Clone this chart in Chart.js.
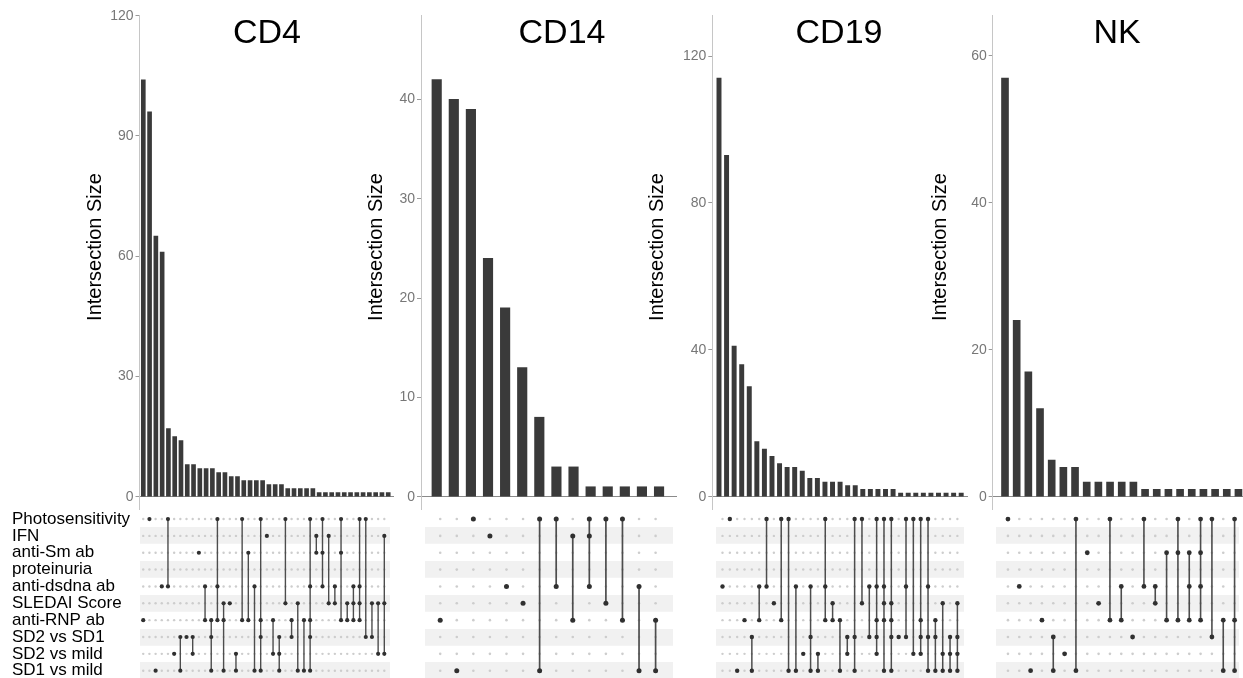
<!DOCTYPE html>
<html><head><meta charset="utf-8">
<script src="https://cdn.jsdelivr.net/npm/chart.js@4/dist/chart.umd.min.js"></script>
<style>
html,body{margin:0;padding:0;background:#fff;overflow:hidden;width:1243px;height:678px;position:relative}
canvas{position:absolute}
</style></head><body>
<script>
// ---------- data ----------
const setNames = ['Photosensitivity','IFN','anti-Sm ab','proteinuria','anti-dsdna ab','SLEDAI Score','anti-RNP ab','SD2 vs SD1','SD2 vs mild','SD1 vs mild'];

const cd4Sizes = [104,96,65,61,17,15,14,8,8,7,7,7,6,6,5,5,4,4,4,4,3,3,3,2,2,2,2,2,1,1,1,1,1,1,1,1,1,1,1,1];
const cd4Members = [[7],[1],[10],[5],[1,5],[9],[8,10],[8],[8,9],[3],[5,7],[7,8,10],[1,5,7],[6,7,10],[6],[9,10],[1,7],[3,7],[5,10],[1,7,8,10],
  [2],[7,9],[8,9,10],[1,6],[7,8],[6,10],[7,10],[1,5,7,8,10],[2,3],[1,3,5],[2,6],[5,6],[1,3,7],[6,7],[5,6,7],[1,5,6,7],[1,8],[6,8],[6,9],[2,6,9]];
const cd4Ticks = [0,30,60,90,120];

const cd14Sizes = [42,40,39,24,19,13,8,3,3,1,1,1,1,1];
const cd14Members = [[7],[10],[1],[2],[5],[6],[1,10],[1,5],[2,7],[1,2,5],[1,6],[1,7],[5,10],[7,10]];
const cd14Ticks = [0,10,20,30,40];

const cd19Sizes = [114,93,41,36,30,15,13,11,9,8,8,7,5,5,4,4,4,3,3,2,2,2,2,2,1,1,1,1,1,1,1,1,1];
const cd19Members = [[5],[1],[10],[7],[8,10],[5,7],[1,5],[6],[1,7],[1,10],[5,10],[9],[5,8,10],[9,10],[1,5,7],[6,7],[7,10],[8,9],[1,8,10],[1,6],
  [5,8],[1,5,7,8,9],[1,5,6,7,10],[1,6,7,8,10],[8],[1,5,8],[1,9],[1,7,8,9],[1,5,8,10],[7,8,10],[6,9,10],[8,9,10],[6,8,9,10]];
const cd19Ticks = [0,40,80,120];

const nkSizes = [57,24,17,12,5,4,4,2,2,2,2,2,1,1,1,1,1,1,1,1,1];
const nkMembers = [[1],[5],[10],[7],[8,10],[9],[1,10],[3],[6],[1,7],[5,7],[8],[1,5],[5,6],[3,7],[1,3,7],[3,5,7],[1,3,5,7],[1,8],[7,10],[1,7,10]];
const nkTicks = [0,20,40,60];

const panelTitles = ['CD4','CD14','CD19','NK'];

// ---------- layout (page pixels) ----------
const layouts = [
  {chartLeft:139.5, chartRight:394,  xMin:0.395,  xMax:40.92, yMin:-3.32, yMax:120.18, axisTitleX:95,  titleX:267,  barW:4,   dotR:2.1, emptyR:1.2, lineW:1.4},
  {chartLeft:421,   chartRight:677,  xMin:0.082,  xMax:15.05, yMin:-1.34, yMax:48.49,  axisTitleX:376, titleX:562,  barW:9.5, dotR:2.5, emptyR:1.3, lineW:1.7},
  {chartLeft:712.3, chartRight:968,  xMin:0.115,  xMax:33.9,  yMin:-3.62, yMax:131.2,  axisTitleX:657, titleX:839,  barW:4.3, dotR:2.2, emptyR:1.2, lineW:1.5},
  {chartLeft:992.7, chartRight:1243, xMin:-0.054, xMax:21.39, yMin:-1.81, yMax:65.58,  axisTitleX:940, titleX:1117, barW:7,   dotR:2.4, emptyR:1.3, lineW:1.6}
];
const panels = [
  {sizes:cd4Sizes, members:cd4Members, ticks:cd4Ticks},
  {sizes:cd14Sizes, members:cd14Members, ticks:cd14Ticks},
  {sizes:cd19Sizes, members:cd19Members, ticks:cd19Ticks},
  {sizes:nkSizes, members:nkMembers, ticks:nkTicks}
];

Chart.defaults.font.family = '"Liberation Sans", Arial, Helvetica, sans-serif';

const panelTextPlugin = {
  id: 'panelText',
  afterDraw(chart, args, opts) {
    const {ctx, chartArea} = chart;
    ctx.save();
    ctx.fillStyle = '#000';
    ctx.textAlign = 'center';
    ctx.font = '34px "Liberation Sans", Arial, sans-serif';
    ctx.textBaseline = 'alphabetic';
    ctx.fillText(opts.title, chartArea.left + opts.titleDx, 43);
    ctx.translate(chartArea.left - opts.axisGap, 247);
    ctx.rotate(-Math.PI / 2);
    ctx.font = '20px "Liberation Sans", Arial, sans-serif';
    ctx.textBaseline = 'middle';
    ctx.fillText('Intersection Size', 0, 0);
    ctx.restore();
  }
};

function addCanvas(left, top, w, h) {
  const c = document.createElement('canvas');
  c.width = w; c.height = h;
  c.style.left = left + 'px'; c.style.top = top + 'px';
  c.style.width = w + 'px'; c.style.height = h + 'px';
  document.body.appendChild(c);
  return c;
}

function barChart(p, L, title) {
  const canvasLeft = Math.floor(L.axisTitleX - 15);
  const W = L.chartLeft - canvasLeft;
  const cw = Math.ceil(L.chartRight - canvasLeft);
  const canvas = addCanvas(canvasLeft, 0, cw, 510);
  new Chart(canvas, {
    type: 'bar',
    data: {datasets: [{
      label: 'Intersection Size',
      data: p.sizes.map((v, i) => ({x: i + 1, y: v})),
      backgroundColor: '#3a3a3a',
      barThickness: L.barW
    }]},
    options: {
      responsive: false, animation: false, devicePixelRatio: 1, events: [],
      layout: {padding: {top: 15, bottom: 0, left: 0, right: cw - (L.chartRight - canvasLeft)}},
      plugins: {legend: {display: false}, tooltip: {enabled: false},
        panelText: {title: title, titleDx: L.titleX - L.chartLeft, axisGap: L.chartLeft - L.axisTitleX}},
      scales: {
        x: {type: 'linear', min: L.xMin, max: L.xMax, offset: false, display: false, grid: {offset: false}},
        y: {type: 'linear', position: 'left', min: L.yMin, max: L.yMax,
          afterBuildTicks: s => { s.ticks = p.ticks.map(v => ({value: v})); },
          afterFit: s => { s.width = W; s.paddingTop = 0; s.paddingBottom = 0; },
          grid: {color: c => (c.tick && c.tick.value === 0) ? '#8a8a8a' : 'rgba(0,0,0,0)',
                 tickColor: '#9a9a9a', tickLength: 4, lineWidth: 1},
          border: {display: true, color: '#c6c6c6', width: 1},
          ticks: {color: '#777', font: {size: 14}, padding: 2, autoSkip: false}
        }
      }
    },
    plugins: [panelTextPlugin]
  });
}

function matrixChart(p, L, showLabels) {
  const top = 505, height = 180;
  const areaTop = 510.6, areaBottom = 679.1;
  const rowH = (areaBottom - areaTop) / setNames.length;
  const canvasLeft = showLabels ? 0 : Math.floor(L.chartLeft);
  const padLeft = showLabels ? 12 : (L.chartLeft - canvasLeft);
  const cw = Math.ceil(L.chartRight - canvasLeft);
  const canvas = addCanvas(canvasLeft, top, cw, height);

  const empties = [], filled = [], links = [];
  p.members.forEach((m, i) => {
    const c = i + 1;
    setNames.forEach((_, r) => empties.push({x: c, y: r + 1}));
    m.forEach(r => filled.push({x: c, y: r}));
    if (m.length > 1) {
      links.push({x: c, y: Math.min(...m)}, {x: c, y: Math.max(...m)}, {x: c, y: null});
    }
  });

  new Chart(canvas, {
    type: 'scatter',
    data: {datasets: [
      {label: 'member', data: filled, pointRadius: L.dotR, pointBackgroundColor: '#303030', pointBorderWidth: 0, order: 0},
      {label: 'link', data: links, showLine: true, borderColor: '#4d4d4d', borderWidth: L.lineW, pointRadius: 0, spanGaps: false, order: 1},
      {label: 'empty', data: empties, pointRadius: L.emptyR, pointBackgroundColor: '#cdcdcd', pointBorderWidth: 0, order: 2}
    ]},
    options: {
      responsive: false, animation: false, devicePixelRatio: 1, events: [],
      layout: {padding: {top: areaTop - top, bottom: top + height - areaBottom, left: padLeft, right: cw - (L.chartRight - canvasLeft)}},
      plugins: {legend: {display: false}, tooltip: {enabled: false}},
      scales: {
        x: {type: 'linear', min: L.xMin, max: L.xMax, offset: false, display: false},
        y: {type: 'linear', position: 'left', min: 0.5, max: 10.5, reverse: true,
          afterBuildTicks: s => { s.ticks = setNames.map((_, i) => ({value: i + 1})); },
          afterFit: s => { s.width = showLabels ? L.chartLeft - 12 : 0; s.paddingTop = 0; s.paddingBottom = 0; },
          ticks: {display: showLabels, callback: v => setNames[v - 1], crossAlign: 'far', padding: 0,
                  color: '#000', font: {size: 17}, autoSkip: false},
          grid: {drawTicks: false, lineWidth: rowH,
                 color: c => (c.tick && c.tick.value % 2 === 0) ? '#f1f1f1' : 'rgba(0,0,0,0)'},
          border: {display: false}
        }
      }
    }
  });
}

panels.forEach((p, i) => {
  matrixChart(p, layouts[i], i === 0);
  barChart(p, layouts[i], panelTitles[i]);
});
</script>
</body></html>
